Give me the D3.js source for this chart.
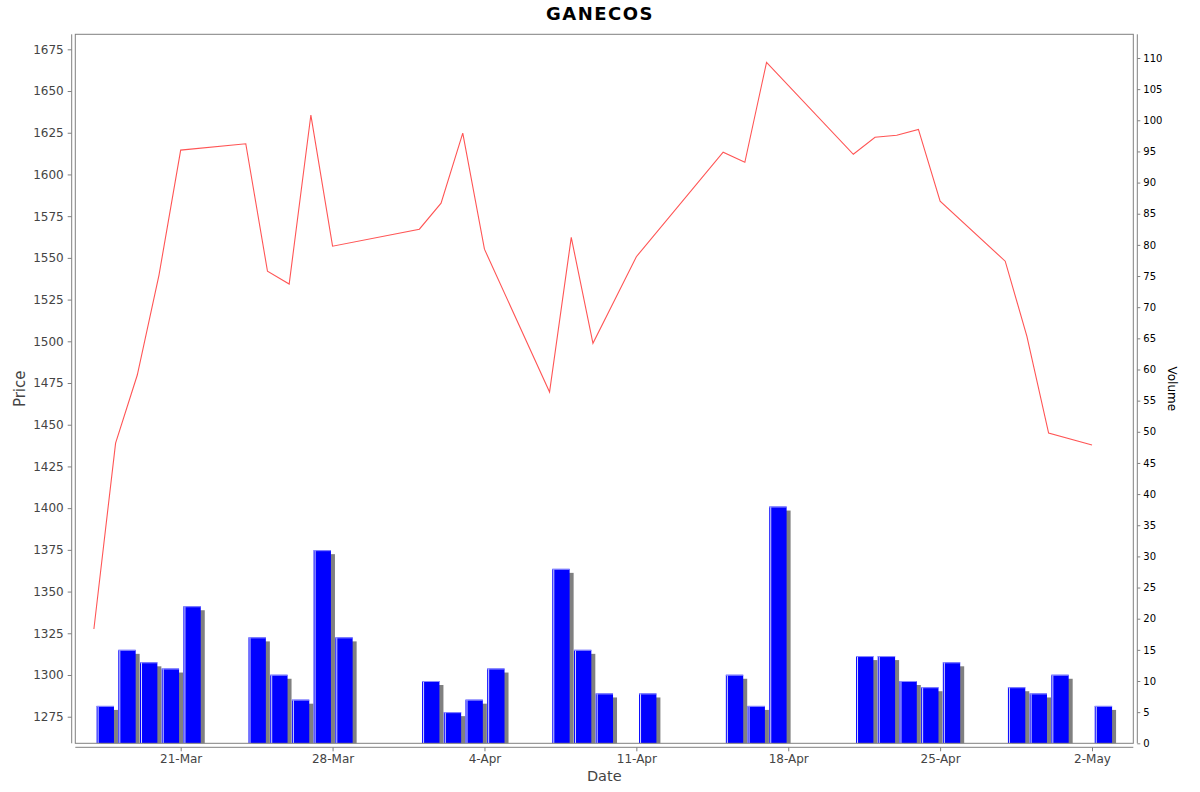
<!DOCTYPE html>
<html>
<head>
<meta charset="utf-8">
<script src="https://cdn.jsdelivr.net/npm/d3@7"></script>
<style>
  html, body { margin: 0; padding: 0; background: #fff; }
  svg { display: block; font-family: "DejaVu Sans", sans-serif; }
</style>
</head>
<body>
<svg id="chart" width="1200" height="792"></svg>
<script>
// ---- data ----
const title = "GANECOS";
const dates = [
  "2025-03-17","2025-03-18","2025-03-19","2025-03-20","2025-03-21",
  "2025-03-24","2025-03-25","2025-03-26","2025-03-27","2025-03-28",
  "2025-04-01","2025-04-02","2025-04-03","2025-04-04",
  "2025-04-07","2025-04-08","2025-04-09","2025-04-11",
  "2025-04-15","2025-04-16","2025-04-17",
  "2025-04-21","2025-04-22","2025-04-23","2025-04-24","2025-04-25",
  "2025-04-28","2025-04-29","2025-04-30","2025-05-02"
];
const prices = [
  1327.6, 1439, 1479.8, 1539.7, 1614.6,
  1618.4, 1542, 1534.3, 1635.6, 1557,
  1567.2, 1582.8, 1624.8, 1555.2,
  1469.6, 1562.3, 1498.8, 1550.7,
  1613.3, 1607.3, 1667.2,
  1612.1, 1622.3, 1623.5, 1627, 1584,
  1548, 1503, 1445, 1437.8
];
const volumes = [
  6, 15, 13, 12, 22,
  17, 11, 7, 31, 17,
  10, 5, 7, 12,
  28, 15, 8, 8,
  11, 6, 38,
  14, 14, 10, 9, 13,
  9, 8, 11, 6
];
const priceTicks = d3.range(1275, 1676, 25);
const volumeTicks = d3.range(0, 111, 5);
const dateTicks = ["2025-03-21","2025-03-28","2025-04-04","2025-04-11","2025-04-18","2025-04-25","2025-05-02"];

// ---- layout ----
const W = 1200, H = 792;
const plot = { left: 75.3, right: 1133.3, top: 34.3, bottom: 743.3 };
const DAY = 86400000;
const parse = d3.utcParse("%Y-%m-%d");
const dd = dates.map(parse);

const x = d3.scaleUtc()
  .domain([new Date(+parse("2025-03-21") - 4.857 * DAY), new Date(+parse("2025-05-02") + 1.903 * DAY)])
  .range([plot.left, plot.right]);
const yP = d3.scaleLinear().domain([1259.06, 1684.0]).range([plot.bottom, plot.top]);
const yV = d3.scaleLinear().domain([0, 113.8]).range([plot.bottom, plot.top]);

const svg = d3.select("#chart");

svg.append("rect").attr("x", plot.left).attr("y", plot.top)
  .attr("width", plot.right - plot.left).attr("height", plot.bottom - plot.top)
  .attr("fill", "#fff");

svg.append("defs").append("clipPath").attr("id", "clip")
  .append("rect").attr("x", plot.left).attr("y", plot.top)
  .attr("width", plot.right - plot.left).attr("height", plot.bottom - plot.top);

const g = svg.append("g").attr("clip-path", "url(#clip)");

// volume bars
const bars = dd.map((d, i) => ({
  x0: x(new Date(+d + 0.125 * DAY)),
  x1: x(new Date(+d + 0.925 * DAY)),
  v: volumes[i]
}));
g.selectAll("rect.shadow").data(bars).join("rect")
  .attr("class", "shadow")
  .attr("x", b => b.x0 + 4).attr("y", b => yV(b.v) + 4)
  .attr("width", b => b.x1 - b.x0).attr("height", b => Math.max(0, yV(0) - yV(b.v)))
  .attr("fill", "#808080");
g.selectAll("rect.bar").data(bars).join("rect")
  .attr("class", "bar")
  .attr("x", b => b.x0).attr("y", b => yV(b.v))
  .attr("width", b => b.x1 - b.x0).attr("height", b => yV(0) - yV(b.v))
  .attr("fill", "#0000ff");
g.selectAll("line.hl").data(bars).join("line")
  .attr("class", "hl")
  .attr("x1", b => b.x0 + 1.5).attr("x2", b => b.x0 + 1.5)
  .attr("y1", b => yV(b.v)).attr("y2", b => yV(0))
  .attr("stroke", "#d8d8ff").attr("stroke-width", 1);
g.selectAll("line.top").data(bars).join("line")
  .attr("class", "top")
  .attr("x1", b => b.x0).attr("x2", b => b.x1)
  .attr("y1", b => yV(b.v) + 0.5).attr("y2", b => yV(b.v) + 0.5)
  .attr("stroke", "#8c8cff").attr("stroke-width", 1);

// price line
const line = d3.line().x((d, i) => x(dd[i])).y(d => yP(d));
g.append("path").datum(prices)
  .attr("d", line)
  .attr("fill", "none")
  .attr("stroke", "#ff5555")
  .attr("stroke-width", 1.1);

svg.append("rect").attr("x", plot.left).attr("y", plot.top)
  .attr("width", plot.right - plot.left).attr("height", plot.bottom - plot.top)
  .attr("fill", "none").attr("stroke", "#808080").attr("stroke-width", 1);

// ---- axes ----
const axisColor = "#808080";
function styleAxis(sel, textColor, size) {
  sel.select(".domain").attr("stroke", axisColor);
  sel.selectAll(".tick line").attr("stroke", axisColor);
  sel.selectAll(".tick text").attr("fill", textColor)
    .style("font-family", "DejaVu Sans, sans-serif").style("font-size", size + "px");
}

const axL = svg.append("g").attr("transform", `translate(${plot.left - 3.6},0)`)
  .call(d3.axisLeft(yP).tickValues(priceTicks).tickSize(4).tickPadding(4).tickSizeOuter(0).tickFormat(d3.format("d")));
axL.select(".domain").attr("d", `M0,${plot.top}V${plot.bottom}`);
styleAxis(axL, "#444444", 12);

const axR = svg.append("g").attr("transform", `translate(${plot.right + 4},0)`)
  .call(d3.axisRight(yV).tickValues(volumeTicks).tickSize(3).tickPadding(3).tickSizeOuter(0).tickFormat(d3.format("d")));
axR.select(".domain").attr("d", `M0,${plot.top}V${plot.bottom}`);
styleAxis(axR, "#000000", 10);

const axB = svg.append("g").attr("transform", `translate(0,${plot.bottom + 4})`)
  .call(d3.axisBottom(x).tickValues(dateTicks.map(parse)).tickSize(4).tickPadding(3).tickSizeOuter(0)
    .tickFormat(d3.utcFormat("%-d-%b")));
axB.select(".domain").attr("d", `M${plot.left},0H${plot.right}`);
styleAxis(axB, "#444444", 12);

// ---- labels ----
svg.append("text").attr("x", 600).attr("y", 19.5)
  .attr("text-anchor", "middle")
  .style("font-size", "18px").style("font-weight", "bold")
  .style("letter-spacing", "1.5px")
  .attr("fill", "#000").text(title);

svg.append("text")
  .attr("transform", `translate(25,${(plot.top + plot.bottom) / 2}) rotate(-90)`)
  .attr("text-anchor", "middle")
  .style("font-size", "15px").attr("fill", "#444").text("Price");

svg.append("text").attr("x", (plot.left + plot.right) / 2).attr("y", 781)
  .attr("text-anchor", "middle")
  .style("font-size", "14.5px").attr("fill", "#444").text("Date");

svg.append("text")
  .attr("transform", `translate(1167.5,${(plot.top + plot.bottom) / 2}) rotate(90)`)
  .attr("text-anchor", "middle")
  .style("font-size", "12px").attr("fill", "#000").text("Volume");
</script>
</body>
</html>
